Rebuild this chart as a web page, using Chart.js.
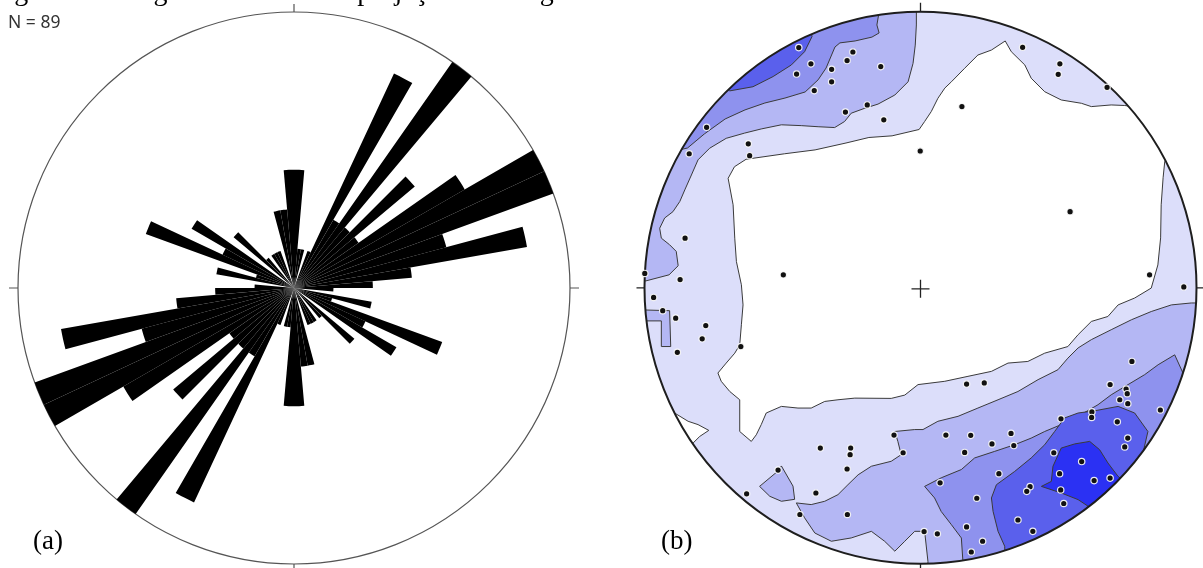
<!DOCTYPE html>
<html><head><meta charset="utf-8">
<script src="https://cdn.jsdelivr.net/npm/chart.js@4.4.0/dist/chart.umd.min.js"></script>
<style>
html,body{margin:0;padding:0;background:#fff;width:1203px;height:568px;overflow:hidden;position:relative}
canvas{position:absolute;top:0}
.t{position:absolute;line-height:0;white-space:nowrap;color:#000}
</style></head><body>
<canvas id="rose" width="600" height="568" style="left:0;width:600px;height:568px"></canvas>
<canvas id="net" width="583" height="568" style="left:620px;width:583px;height:568px"></canvas>
<div class="t" style="left:-9px;top:-25px;font:28px 'Liberation Serif'">Figura 6 – Diagrama de roseta e projeção estereográfica das fraturas do</div>
<div class="t" style="left:8px;top:8.5px;font:17.5px 'Noto Sans';color:#333">N = 89</div>
<div class="t" style="left:33px;top:525px;font:27px 'Liberation Serif'">(a)</div>
<div class="t" style="left:661px;top:525px;font:27px 'Liberation Serif'">(b)</div>
<script>
// ---------- (a) rose diagram: fracture counts per 5° strike bin (0°–360°, bidirectional) ----------
const roseBins = Array.from({length: 72}, (_, i) => `${i * 5}°–${i * 5 + 5}°`);
const roseCounts = [
  3,1,1,0,1,6,2,7,2,4,2,5,7,7,4,6,3,2,1,0,2,1,4,2,3,0,2,1,0,1,1,1,0,2,2,3,
  3,1,1,0,1,6,2,7,2,4,2,5,7,7,4,6,3,2,1,0,2,1,4,2,3,0,2,1,0,1,1,1,0,2,2,3
];
const roseMax = 7;

// ---------- (b) stereonet: poles (equal-area projection, % of primitive radius) ----------
const poleX = [-44.1,-39.7,-44.9,-32.2,-24.5,-26.6,-14.4,-32.2,-38.5,-19.3,-27.2,-13.3,-77.5,-62.4,-61.9,-83.8,-0.1,-85.3,-99.9,-87.1,-49.7,
  37.0,50.5,49.9,67.6,15.0,54.2,83.0,95.4,
  -96.7,-93.4,-88.7,-77.8,-79.1,-88.1,-65.1,-36.3,-25.3,-25.5,-26.6,-9.6,-6.3,-51.6,-63.0,-37.9,-43.7,-26.5,
  76.6,16.7,23.1,68.7,74.5,74.9,72.2,75.1,86.9,62.1,62.0,50.9,71.3,9.2,18.2,32.8,25.9,33.8,16.0,75.1,74.0,48.3,58.4,50.4,28.4,7.1,62.9,68.7,39.7,38.5,50.8,20.4,51.9,35.3,16.7,40.7,1.3,6.1,22.5,18.4];
const poleY = [87.1,81.2,77.5,79.2,85.5,82.4,80.2,74.7,71.5,66.3,63.7,60.9,58.2,52.2,47.9,48.6,49.6,18.0,5.2,3.0,4.7,
  87.2,81.2,77.4,72.7,65.7,27.6,4.7,0.3,
  -3.5,-8.3,-11.0,-13.7,-18.5,-23.4,-21.3,-58.1,-58.1,-60.5,-65.7,-53.4,-59.8,-66.1,-74.7,-74.4,-82.2,-82.2,
  -26.7,-34.9,-34.5,-35.1,-36.7,-38.4,-40.6,-42.0,-44.3,-45.0,-47.0,-47.5,-48.6,-53.4,-53.5,-52.8,-56.6,-57.2,-59.7,-54.5,-57.7,-59.8,-63.0,-67.4,-67.4,-70.7,-69.9,-69.0,-72.1,-73.8,-73.3,-76.3,-78.2,-84.2,-86.7,-88.3,-88.4,-89.2,-91.9,-95.8];

// contour regions (vertices in % of primitive radius; parts beyond the primitive are clipped)
const level1All = [[-110,-110],[110,-110],[110,110],[-110,110]];
const level0Core = [[-69.7,39.7],[-67.4,43.9],[-63.2,46.6],[-49.2,48.6],[-38.2,50.0],[-27.0,52.5],[-18.7,54.5],[-10.3,55.1],[-0.5,57.4],[1.5,60.3],[3.9,63.9],[6.3,68.7],[8.8,72.4],[11.2,74.7],[16.0,79.6],[20.8,84.4],[25.7,86.2],[30.7,89.5],[32.9,85.6],[37.8,80.8],[40.1,76.0],[45.0,71.1],[51.0,68.1],[58.3,66.9],[61.9,65.7],[69.1,66.3],[74.0,66.1],[95.8,62.7],[88.5,45.8],[87.9,39.9],[87.2,30.1],[87.0,18.1],[86.0,8.3],[83.6,-0.1],[77.6,-3.7],[71.6,-6.2],[67.9,-10.4],[61.9,-12.2],[57.1,-17.0],[53.4,-21.3],[45.0,-23.7],[38.9,-26.7],[31.7,-27.3],[25.7,-30.3],[17.2,-32.1],[8.8,-33.9],[-0.9,-35.1],[-5.7,-38.9],[-10.6,-40.1],[-23.8,-40.0],[-29.9,-40.6],[-34.7,-41.2],[-39.6,-43.6],[-44.4,-43.6],[-50.4,-43.0],[-55.9,-45.4],[-57.7,-49.6],[-59.5,-53.3],[-61.3,-55.7],[-65.5,-52.1],[-65.5,-47.2],[-65.5,-40.6],[-69.1,-37.6],[-72.2,-33.9],[-73.4,-30.9],[-70.4,-27.3],[-67.3,-23.7],[-65.5,-20.7],[-64.9,-13.4],[-64.3,-6.2],[-64.9,1.1],[-66.7,9.5],[-67.3,18.0],[-67.9,30.1]];
const level0SW = [[-89.1,-45.4],[-84.2,-48.4],[-80.6,-49.6],[-76.7,-51.7],[-80.0,-53.9],[-82.4,-56.3],[-90.8,-62.3],[-98.0,-51.4]];
const level2NW = [[-115,1.8],[-99.5,2.5],[-91.1,4.7],[-87.8,8.0],[-88.5,13.2],[-90.9,15.6],[-93.9,18.0],[-94.5,21.6],[-92.7,25.3],[-89.7,27.6],[-87.2,31.3],[-85.4,35.5],[-83.0,40.9],[-80.6,46.4],[-76.4,50.6],[-70.4,54.2],[-63.7,56.1],[-57.7,57.6],[-50.4,59.1],[-43.2,58.8],[-37.1,58.4],[-31.1,58.1],[-27.5,60.3],[-25.1,63.3],[-20.2,65.1],[-15.4,66.6],[-9.3,69.9],[-4.5,74.7],[-2.7,81.4],[-1.9,88.0],[-1.5,95.3],[-1.5,100.1],[-1.5,115],[-115,115]];
const level2W = [[-101.3,-8.0],[-90.9,-8.3],[-90.5,-21.3],[-93.7,-21.3],[-93.9,-12.0],[-101.3,-12.0]];
const level2SW = [[-58.3,-72.0],[-51.6,-66.4],[-50.4,-64.6],[-46.2,-71.9],[-45.6,-76.7],[-50.4,-77.4],[-54.6,-75.6]];
const level2SE = [[-45.0,-78.0],[-39.6,-78.6],[-34.7,-77.4],[-29.9,-75.0],[-26.3,-71.4],[-22.6,-67.8],[-17.8,-64.7],[-10.6,-62.9],[-7.0,-60.5],[-8.2,-55.7],[-9.3,-52.1],[-2.1,-51.4],[0.9,-51.4],[6.3,-48.4],[13.6,-46.6],[20.8,-43.6],[28.1,-40.6],[35.3,-37.6],[42.6,-33.3],[49.8,-29.7],[53.4,-25.5],[57.1,-21.8],[61.9,-18.8],[69.1,-15.2],[76.4,-11.6],[83.6,-8.6],[90.9,-6.2],[98.1,-5.5],[115,-5.5],[115,-115],[2.7,-115],[2.7,-99.2],[1.5,-88.3],[-2.1,-88.3],[-5.7,-91.9],[-9.3,-95.5],[-13.0,-91.9],[-17.8,-88.3],[-25.1,-90.7],[-32.3,-91.9],[-38.3,-88.9],[-42.0,-83.4]];
const level3NW = [[-110,47],[-100,47],[-84.4,50.7],[-78.3,55.8],[-70.8,61.2],[-63.6,64.5],[-56.4,67.0],[-49.1,68.8],[-41.8,71.0],[-37.1,75.4],[-34.2,79.7],[-31.0,87.3],[-29.2,88.8],[-23.7,89.5],[-17.6,90.9],[-15.0,92.4],[-15.8,95.3],[-15.0,100.0],[-15,115],[-110,115]];
const level3SE = [[15.4,-99.7],[14.8,-90.7],[11.2,-85.9],[7.5,-81.1],[5.1,-76.2],[1.5,-72.0],[7.5,-68.9],[14.8,-65.9],[19.6,-61.7],[26.9,-59.3],[34.1,-56.9],[40.1,-54.5],[45.0,-52.1],[51.0,-49.6],[57.1,-46.6],[64.3,-42.4],[69.1,-38.8],[75.2,-35.1],[81.2,-31.5],[86.1,-27.9],[92.1,-24.3],[95.1,-30.9],[115,-33],[115,-115],[15.4,-115]];
const level4NW = [[-80,80],[-69.1,71.4],[-60.7,72.9],[-53.4,76.6],[-46.8,80.8],[-42.0,85.6],[-39.3,91.1],[-42,108]];
const level4SE = [[30.5,-93.7],[28.1,-88.3],[26.3,-81.1],[25.7,-76.2],[27.5,-71.4],[34.1,-66.6],[40.1,-61.7],[45.0,-56.9],[48.6,-52.1],[52.2,-47.2],[57.1,-45.4],[63.1,-44.6],[71.6,-43.0],[77.6,-45.4],[82.4,-52.1],[80.6,-59.9],[76.4,-65.3],[71.6,-69.6],[85,-80],[31,-108]];
const level5SE = [[60.7,-79.2],[57.1,-76.8],[51.0,-74.4],[43.8,-72.0],[47.4,-70.2],[48.0,-64.7],[51.0,-58.1],[55.9,-56.6],[61.3,-55.7],[64.9,-58.7],[67.9,-63.5],[71.6,-68.4],[80,-75],[66,-88]];

// ---------- styles ----------
const levelColors = {0: '#ffffff', 1: '#dcdefa', 2: '#b4b7f4', 3: '#8e92ee', 4: '#5a60ec', 5: '#2b31f3'};
const levelOrder = {1: 6, 0: 5, 2: 4, 3: 3, 4: 2, 5: 1};

// ---------- chart (a) ----------
const roseFrame = {
  id: 'roseFrame',
  afterDraw(chart) {
    const s = chart.scales.r, ctx = chart.ctx;
    const cx = s.xCenter, cy = s.yCenter, R = s.drawingArea;
    ctx.save();
    ctx.strokeStyle = '#555'; ctx.lineWidth = 1.2;
    ctx.beginPath();
    ctx.moveTo(cx, cy - R); ctx.lineTo(cx, cy - R - 8);
    ctx.moveTo(cx + R, cy); ctx.lineTo(cx + R + 9, cy);
    ctx.moveTo(cx, cy + R); ctx.lineTo(cx, cy + R + 9);
    ctx.moveTo(cx - R, cy); ctx.lineTo(cx - R - 9, cy);
    ctx.stroke();
    ctx.restore();
  }
};
new Chart(document.getElementById('rose'), {
  type: 'polarArea',
  data: { labels: roseBins, datasets: [{ data: roseCounts, backgroundColor: '#000', borderWidth: 0 }] },
  options: {
    responsive: false, animation: false,
    layout: { padding: { left: 18, right: 30, top: 12, bottom: 4 } },
    scales: { r: {
      min: 0, max: roseMax,
      ticks: { display: false, stepSize: roseMax },
      grid: { color: '#555', lineWidth: 1.2, circular: true },
      angleLines: { display: false }, pointLabels: { display: false }
    } },
    plugins: { legend: { display: false }, tooltip: { enabled: false } }
  },
  plugins: [roseFrame]
});

// ---------- chart (b) ----------
const regions = [
  [level1All, 1], [level0Core, 0], [level0SW, 0],
  [level2NW, 2], [level2W, 2], [level2SW, 2], [level2SE, 2],
  [level3NW, 3], [level3SE, 3], [level4NW, 4], [level4SE, 4], [level5SE, 5]
];
const toXY = pts => pts.concat([pts[0]]).map(([x, y]) => ({x, y}));
const datasets = [{
  isPoles: true,
  data: poleX.map((x, i) => ({x, y: poleY[i]})),
  pointRadius: 3.2, pointHoverRadius: 3.2,
  pointBackgroundColor: '#111', pointBorderColor: 'rgba(255,255,255,0.9)', pointBorderWidth: 1.2,
  showLine: false, order: 0, clip: false
}];
regions.forEach(([pts, lv]) => datasets.push({
  isContour: true,
  data: toXY(pts), showLine: true, fill: 'shape', tension: 0,
  backgroundColor: levelColors[lv],
  borderColor: lv === 1 ? 'rgba(0,0,0,0)' : '#3a3a3a', borderWidth: lv === 1 ? 0 : 1,
  pointRadius: 0, pointHoverRadius: 0, pointHitRadius: 0,
  order: levelOrder[lv]
}));
function geom(chart) {
  const x = chart.scales.x, y = chart.scales.y;
  const cx = x.getPixelForValue(0), cy = y.getPixelForValue(0);
  return { cx, cy, r: x.getPixelForValue(100) - cx };
}
function drawNetFrame(chart) {
  const {cx, cy, r} = geom(chart), ctx = chart.ctx;
  ctx.save();
  ctx.strokeStyle = '#1e1e1e'; ctx.lineWidth = 2;
  ctx.beginPath(); ctx.arc(cx, cy, r, 0, Math.PI * 2); ctx.stroke();
  ctx.lineWidth = 1.3; ctx.strokeStyle = '#222';
  ctx.beginPath();
  ctx.moveTo(cx, cy - r); ctx.lineTo(cx, cy - r - 9);
  ctx.moveTo(cx + r, cy); ctx.lineTo(cx + r + 8, cy);
  ctx.moveTo(cx, cy + r); ctx.lineTo(cx, cy + r + 9);
  ctx.moveTo(cx - r, cy); ctx.lineTo(cx - r - 8, cy);
  ctx.moveTo(cx - 9, cy + 1); ctx.lineTo(cx + 9, cy + 1);
  ctx.moveTo(cx, cy - 8); ctx.lineTo(cx, cy + 10);
  ctx.stroke();
  ctx.restore();
}
const netFrame = {
  id: 'netFrame',
  beforeDraw(chart) {
    const {cx, cy, r} = geom(chart), ctx = chart.ctx;
    ctx.save(); ctx.beginPath(); ctx.arc(cx, cy, r, 0, Math.PI * 2); ctx.clip();
    chart.$netClip = true;
  },
  beforeDatasetDraw(chart, args) {
    if (chart.data.datasets[args.index].isPoles && chart.$netClip) {
      chart.ctx.restore(); chart.$netClip = false; drawNetFrame(chart);
    }
  },
  afterDraw(chart) {
    if (chart.$netClip) { chart.ctx.restore(); chart.$netClip = false; drawNetFrame(chart); }
  }
};
new Chart(document.getElementById('net'), {
  type: 'scatter',
  data: { datasets },
  options: {
    responsive: false, animation: false,
    layout: { padding: { left: 24.5, right: 6.5, top: 12, bottom: 4 } },
    scales: {
      x: { type: 'linear', min: -100, max: 100, display: false },
      y: { type: 'linear', min: -100, max: 100, display: false }
    },
    plugins: { legend: { display: false }, tooltip: { enabled: false } }
  },
  plugins: [netFrame]
});
</script>
</body></html>
